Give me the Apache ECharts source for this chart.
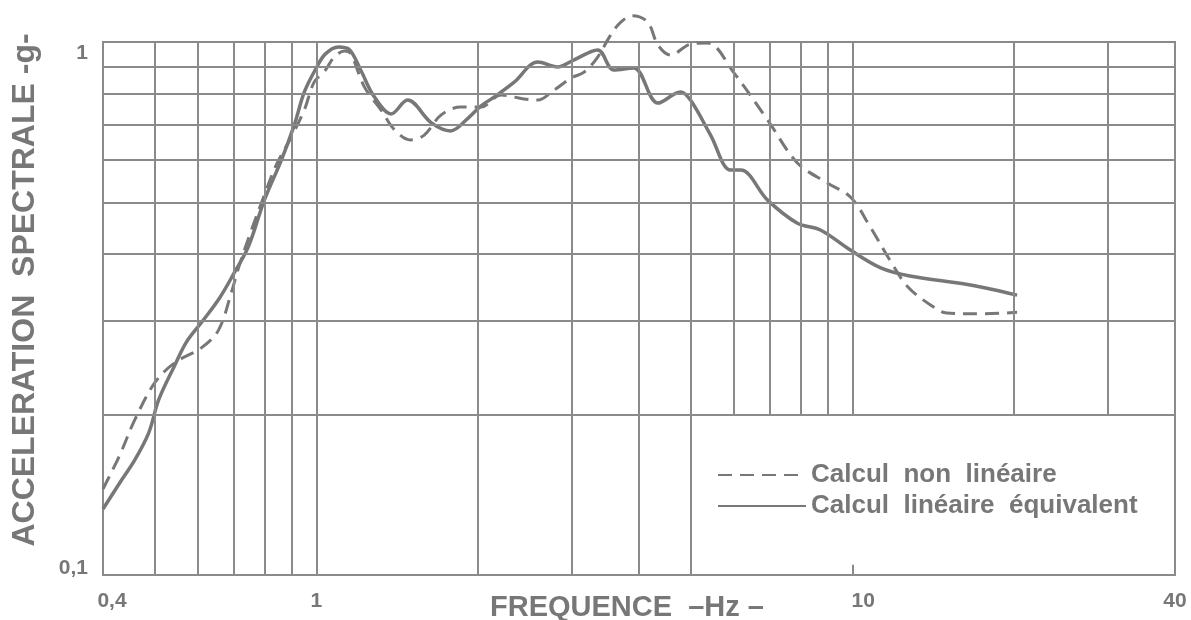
<!DOCTYPE html>
<html><head><meta charset="utf-8">
<script src="https://cdn.jsdelivr.net/npm/echarts@6/dist/echarts.min.js"></script>
<style>html,body{margin:0;padding:0;background:#fff}#c{width:1191px;height:620px}</style>
</head><body><div id="c"></div>
<script>
// ---- data ----
const freqLineaire = [0.40,0.430,0.458,0.487,0.508,0.544,0.573,0.611,0.660,0.704,0.747,0.800,0.861,0.910,0.950,1.00,1.04,1.10,1.15,1.21,1.28,1.38,1.48,1.64,1.78,1.92,2.03,2.15,2.34,2.59,2.82,3.02,3.35,3.59,3.91,4.34,4.78,4.99,5.44,5.93,6.19,6.95,7.90,8.72,9.92,11.3,12.8,16.6,20.3];
const accLineaire  = [0.133,0.149,0.164,0.185,0.213,0.247,0.274,0.298,0.331,0.370,0.413,0.505,0.601,0.699,0.806,0.894,0.950,0.979,0.970,0.886,0.792,0.733,0.778,0.705,0.681,0.720,0.759,0.789,0.841,0.917,0.898,0.925,0.966,0.886,0.894,0.768,0.806,0.778,0.669,0.575,0.575,0.505,0.457,0.444,0.407,0.377,0.364,0.350,0.335];
const freqNonLineaire = [0.40,0.430,0.458,0.499,0.544,0.611,0.657,0.695,0.716,0.757,0.800,0.842,0.898,0.950,0.991,1.04,1.08,1.13,1.16,1.23,1.32,1.40,1.50,1.59,1.71,1.86,2.03,2.21,2.44,2.59,2.78,2.99,3.16,3.35,3.54,3.70,3.89,4.15,4.34,4.58,4.99,5.37,6.00,6.95,7.90,8.98,9.92,10.8,11.8,12.7,14.0,15.0,17.3,20.3];
const accNonLineaire  = [0.145,0.168,0.195,0.229,0.250,0.267,0.288,0.340,0.377,0.444,0.516,0.588,0.663,0.746,0.841,0.886,0.937,0.962,0.950,0.823,0.746,0.684,0.655,0.669,0.730,0.755,0.755,0.795,0.782,0.778,0.813,0.856,0.878,0.937,1.03,1.09,1.12,1.09,0.987,0.945,0.991,0.996,0.878,0.714,0.593,0.544,0.512,0.450,0.387,0.347,0.321,0.310,0.309,0.311];

const seriesNames = ['Calcul  non  linéaire', 'Calcul  linéaire  équivalent'];
const xTickLabels = {0.4: '0,4', 1: '1', 10: '10', 40: '40'};
const yTickLabels = {0.1: '0,1', 1: '1'};
const xGridFull = [0.5,0.6,0.7,0.8,0.9,1,2,3,4,5];
const xGridUpper = [6,7,8,9,10,20,30];
const yGrid = [0.2,0.3,0.4,0.5,0.6,0.7,0.8,0.9];
const xTitle = 'FREQUENCE  –Hz –';
const yTitle = 'ACCELERATION  SPECTRALE -g-';

// ---- styles ----
const ink = '#777777';
const gridInk = '#8a8a8a';
const fontFam = '"Liberation Sans", Arial, sans-serif';
const X_MIN = 0.4, X_MAX = 40, Y_MIN = 0.1, Y_MAX = 1, Y_BREAK = 0.2;

const pairs = (xs, ys) => xs.map((x, i) => [x, ys[i]]);
const key = v => Number(Number(v).toPrecision(3));

const gridLines = [];
xGridFull.forEach(x => gridLines.push([{coord: [x, Y_MIN]}, {coord: [x, Y_MAX]}]));
xGridUpper.forEach(x => gridLines.push([{coord: [x, Y_BREAK]}, {coord: [x, Y_MAX]}]));
yGrid.forEach(y => gridLines.push([{coord: [X_MIN, y]}, {coord: [X_MAX, y]}]));
gridLines.push([{coord: [10, Y_MIN]}, {coord: [10, 0.1045]}]);

const lblBase = {fontSize: 21, fontWeight: 'bold', color: ink, fontFamily: fontFam};

const chart = echarts.init(document.getElementById('c'), null, {renderer: 'canvas'});
chart.setOption({
  animation: false,
  backgroundColor: '#fff',
  grid: {left: 103, right: 16, top: 42, bottom: 45, show: true, borderColor: gridInk, borderWidth: 2, backgroundColor: 'transparent'},
  xAxis: {
    type: 'log', logBase: 10, min: X_MIN, max: X_MAX,
    axisLine: {show: false}, axisTick: {show: false}, splitLine: {show: false},
    axisLabel: Object.assign({
      margin: 16, showMinLabel: true, showMaxLabel: true,
      formatter: v => {
        const k = key(v); const t = xTickLabels[k];
        if (!t) return '';
        const c = k === 0.4 ? 'a' : (k === 10 ? 'c' : 'n');
        return '{' + c + '|' + t + '}';
      },
      rich: {
        a: Object.assign({padding: [0, 0, 0, 18]}, lblBase),
        c: Object.assign({padding: [0, 0, 0, 22]}, lblBase),
        n: Object.assign({}, lblBase)
      }
    }, lblBase)
  },
  yAxis: {
    type: 'log', logBase: 10, min: Y_MIN, max: Y_MAX,
    axisLine: {show: false}, axisTick: {show: false}, splitLine: {show: false},
    axisLabel: Object.assign({
      margin: 15, showMinLabel: true, showMaxLabel: true,
      formatter: v => {
        const k = key(v); const t = yTickLabels[k];
        if (!t) return '';
        return '{' + (k === 1 ? 't' : 'b') + '|' + t + '}';
      },
      rich: {
        t: Object.assign({padding: [22, 0, 0, 0]}, lblBase),
        b: Object.assign({padding: [0, 0, 14, 0]}, lblBase)
      }
    }, lblBase)
  },
  legend: {
    orient: 'vertical', left: 712, top: 457, itemWidth: 88, itemHeight: 12, itemGap: 5,
    data: seriesNames, selectedMode: false,
    itemStyle: {opacity: 0, borderWidth: 0},
    textStyle: {fontSize: 26, fontWeight: 'bold', color: ink, fontFamily: fontFam}
  },
  graphic: [
    {type: 'text', x: 25, y: 290, rotation: Math.PI / 2, silent: true,
     style: {text: yTitle, fill: ink, font: 'bold 32px ' + fontFam, align: 'center', verticalAlign: 'middle'}},
    {type: 'text', x: 627, y: 608, silent: true,
     style: {text: xTitle, fill: ink, font: 'bold 29px ' + fontFam, align: 'center', verticalAlign: 'middle'}}
  ],
  series: [
    {
      type: 'line', data: [], silent: true, z: 1,
      markLine: {silent: true, symbol: ['none', 'none'], label: {show: false}, animation: false,
        lineStyle: {color: gridInk, width: 2, type: 'solid'}, emphasis: {disabled: true}, data: gridLines}
    },
    {
      name: seriesNames[0], type: 'line', data: pairs(freqNonLineaire, accNonLineaire),
      showSymbol: false, symbol: 'none', smooth: 0.35, clip: false, z: 3,
      lineStyle: {color: ink, width: 3, type: [14, 8]}, itemStyle: {color: ink}
    },
    {
      name: seriesNames[1], type: 'line', data: pairs(freqLineaire, accLineaire),
      showSymbol: false, symbol: 'none', smooth: 0.35, clip: false, z: 4,
      lineStyle: {color: ink, width: 3.5, type: 'solid'}, itemStyle: {color: ink}
    }
  ]
});
</script></body></html>
